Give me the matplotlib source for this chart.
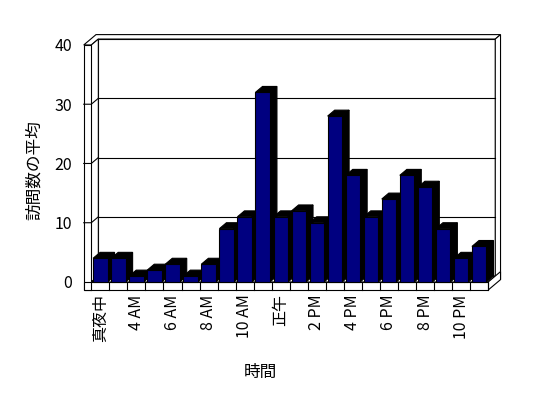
import matplotlib
matplotlib.use('Agg')
import matplotlib.pyplot as plt
from matplotlib.patches import Polygon, Rectangle

plt.rcParams['font.family'] = ['Noto Sans CJK JP', 'DejaVu Sans']

# data
hours = ['真夜中', '1 AM', '4 AM', '5 AM', '6 AM', '7 AM', '8 AM', '9 AM', '10 AM', '11 AM',
         '正午', '1 PM', '2 PM', '3 PM', '4 PM', '5 PM', '6 PM', '7 PM', '8 PM', '9 PM',
         '10 PM', '11 PM']
visits = [4, 4, 1, 2, 3, 1, 3, 9, 11, 32, 11, 12, 10, 28, 18, 11, 14, 18, 16, 9, 4, 6]
yticks = [0, 10, 20, 30, 40]

# 3d look (in data units)
ddx, ddy = 0.39, 1.0      # depth offset
wall = 0.42               # left wall thickness
flo = 1.35                # floor thickness
back = 1.75               # back wall outer face (x depth)
bw = 0.8
navy = '#000080'
lw = 0.8

fig = plt.figure(figsize=(5.48, 3.98), dpi=100)
ax = fig.add_axes([0.1666, 0.2915, 0.7243, 0.5955])
n = len(hours)
x0, x1 = -0.5, n - 0.5
ymax = yticks[-1]
ax.set_xlim(x0, x1)
ax.set_ylim(0, ymax)
ax.patch.set_alpha(0)
for s in ax.spines.values():
    s.set_visible(False)

def poly(pts, fc='white', z=1):
    ax.add_patch(Polygon(pts, closed=True, facecolor=fc, edgecolor='black',
                         linewidth=lw, zorder=z, clip_on=False))

# back wall
poly([(x0 + ddx, ddy), (x1 + ddx, ddy), (x1 + ddx, ymax + ddy), (x0 + ddx, ymax + ddy)])
for t in yticks[1:-1]:
    ax.plot([x0 + ddx, x1 + ddx], [t + ddy, t + ddy], color='black', lw=lw, zorder=1.5, clip_on=False)
# top of walls
poly([(x0 - wall, ymax), (x0, ymax), (x0 + ddx, ymax + ddy), (x1 + ddx, ymax + ddy),
      (x1 + back * ddx, ymax + back * ddy), (x0 - wall + back * ddx, ymax + back * ddy)])
# right edge of back wall
poly([(x1 + ddx, ddy), (x1 + ddx, ymax + ddy), (x1 + back * ddx, ymax + back * ddy),
      (x1 + back * ddx, back * ddy - flo)])
# left wall inner face
poly([(x0, 0), (x0, ymax), (x0 + ddx, ymax + ddy), (x0 + ddx, ddy)], z=2)
for t in yticks[1:-1]:
    ax.plot([x0 - wall, x0, x0 + ddx], [t, t, t + ddy], color='black', lw=lw, zorder=2.5, clip_on=False)
# left wall front face
poly([(x0 - wall, -flo), (x0, -flo), (x0, ymax), (x0 - wall, ymax)], z=2)
# floor
poly([(x0, 0), (x1, 0), (x1 + ddx, ddy), (x0 + ddx, ddy)], z=3)
poly([(x1, -flo), (x1, 0), (x1 + back * ddx, back * ddy), (x1 + back * ddx, back * ddy - flo)], z=3)
poly([(x0 - wall, -flo), (x1, -flo), (x1, 0), (x0 - wall, 0)], z=3)
for i in range(n + 1):
    ax.plot([x0 + i, x0 + i], [-flo, 0], color='black', lw=lw, zorder=3.5, clip_on=False)

# bars
for i, h in enumerate(visits):
    a, b = i - bw / 2, i + bw / 2
    z = 4 + i * 0.01
    poly([(b, 0), (b, h), (b + ddx, h + ddy), (b + ddx, ddy)], fc='black', z=z)
    poly([(a, h), (b, h), (b + ddx, h + ddy), (a + ddx, h + ddy)], fc='black', z=z)
    ax.add_patch(Rectangle((a, 0), bw, h, facecolor=navy, edgecolor='black',
                           linewidth=lw, zorder=z + 0.005, clip_on=False))

ax.set_yticks(yticks)
ax.set_yticklabels([str(t) for t in yticks], fontsize=11.5)
ax.set_xticks(range(n))
ax.set_xticklabels([h if i % 2 == 0 else '' for i, h in enumerate(hours)],
                   rotation=90, fontsize=11.5)
ax.tick_params(axis='y', length=0, pad=14)
ax.tick_params(axis='x', length=0, pad=9)

fig.text(0.4745, 0.0653, '時間', ha='center', va='center', fontsize=12)
fig.text(0.062, 0.573, '訪問数の平均', ha='center', va='center', rotation=90, fontsize=12)

fig.savefig('out.png', dpi=100)
